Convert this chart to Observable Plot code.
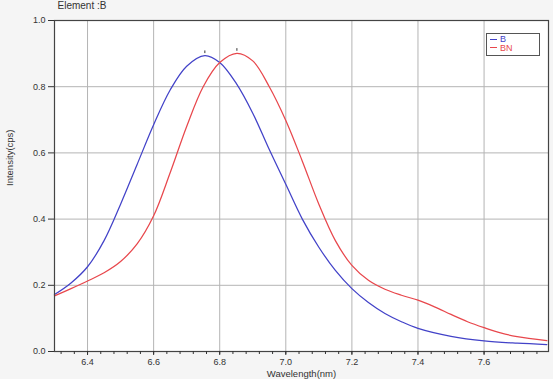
<!DOCTYPE html>
<html>
<head>
<meta charset="utf-8">
<script src="https://cdn.jsdelivr.net/npm/d3@7"></script>
<script src="https://cdn.jsdelivr.net/npm/@observablehq/plot@0.6"></script>
<style>
  html, body { margin: 0; padding: 0; background: #f5f5f5; }
  #wrap { position: relative; width: 553px; height: 379px; }
  #legend {
    position: absolute; left: 486px; top: 33px; width: 52px; height: 20px;
    border: 1px solid #555; background: #fff;
    font: 9px "Liberation Sans", Arial, sans-serif; line-height: 8.5px;
    padding-top: 1px; box-sizing: content-box;
  }
  .row { display: flex; align-items: center; height: 8.5px; }
  .sw { width: 7px; height: 0; border-top: 1.3px solid; margin: 0 3px 0 3px; }
</style>
</head>
<body>
<div id="wrap"></div>
<script>
// Series B
const bWave = [6.30, 6.35, 6.40, 6.45, 6.50, 6.55, 6.60, 6.65, 6.70, 6.755, 6.80, 6.85, 6.90, 6.95, 7.00, 7.05, 7.10, 7.15, 7.20, 7.25, 7.30, 7.35, 7.40, 7.50, 7.60, 7.70, 7.79];
const bInt  = [0.172, 0.207, 0.256, 0.335, 0.445, 0.565, 0.685, 0.79, 0.862, 0.894, 0.873, 0.81, 0.72, 0.61, 0.505, 0.40, 0.315, 0.245, 0.19, 0.148, 0.115, 0.09, 0.07, 0.046, 0.032, 0.025, 0.021];
// Series BN
const bnWave = [6.30, 6.35, 6.40, 6.45, 6.50, 6.55, 6.60, 6.65, 6.70, 6.75, 6.80, 6.852, 6.90, 6.95, 7.00, 7.05, 7.10, 7.15, 7.20, 7.25, 7.30, 7.35, 7.40, 7.45, 7.50, 7.55, 7.60, 7.65, 7.70, 7.79];
const bnInt  = [0.168, 0.19, 0.213, 0.238, 0.272, 0.325, 0.41, 0.54, 0.68, 0.80, 0.873, 0.901, 0.878, 0.80, 0.698, 0.575, 0.445, 0.335, 0.26, 0.215, 0.188, 0.17, 0.155, 0.135, 0.112, 0.09, 0.072, 0.056, 0.045, 0.033];

const seriesNames = ["B", "BN"];
const seriesColors = ["#4242c8", "#e8474c"];

const xTicks = [6.4, 6.6, 6.8, 7.0, 7.2, 7.4, 7.6];
const xMinorTicks = [6.32, 6.36, 6.40, 6.44, 6.48, 6.52, 6.56, 6.60, 6.64, 6.68, 6.72, 6.76, 6.80, 6.84, 6.88, 6.92, 6.96, 7.00, 7.04, 7.08, 7.12, 7.16, 7.20, 7.24, 7.28, 7.32, 7.36, 7.40, 7.44, 7.48, 7.52, 7.56, 7.60, 7.64, 7.68, 7.72, 7.76];
const yTicks = [0.0, 0.2, 0.4, 0.6, 0.8, 1.0];

const titleText = "Element :B";
const xLabel = "Wavelength(nm)";
const yLabel = "Intensity(cps)";

const data = [
  ...bWave.map((w, i) => ({series: "B", w, v: bInt[i]})),
  ...bnWave.map((w, i) => ({series: "BN", w, v: bnInt[i]}))
];
const peaks = seriesNames.map(s => {
  const pts = data.filter(d => d.series === s);
  return pts.reduce((a, b) => (b.v > a.v ? b : a));
});

const font = '"Liberation Sans", Arial, sans-serif';

const chart = Plot.plot({
  width: 553,
  height: 379,
  marginLeft: 54,
  marginRight: 5,
  marginTop: 20,
  marginBottom: 28,
  style: {fontFamily: font, fontSize: "9px", color: "#333", background: "#f5f5f5", overflow: "visible"},
  x: {domain: [6.3, 7.795]},
  y: {domain: [0, 1.0]},
  color: {domain: seriesNames, range: seriesColors},
  marks: [
    Plot.frame({fill: "white", stroke: null}),
    Plot.gridX(xTicks, {stroke: "#b4b4b4", strokeOpacity: 1, strokeWidth: 1}),
    Plot.gridY(yTicks.slice(1, -1), {stroke: "#b4b4b4", strokeOpacity: 1, strokeWidth: 1}),
    Plot.line(data, {x: "w", y: "v", z: "series", stroke: "series", strokeWidth: 1.25, curve: "catmull-rom"}),
    Plot.ruleX(peaks, {x: "w", y1: d => d.v + 0.006, y2: d => d.v + 0.014, stroke: "#333", strokeWidth: 1}),
    Plot.frame({stroke: "#444", strokeWidth: 1.2}),
    Plot.axisX(xMinorTicks, {tickSize: 3, tickFormat: () => "", stroke: "#333", label: null}),
    Plot.axisX(xTicks, {tickSize: 4, tickPadding: 3, tickFormat: d => d.toFixed(1), stroke: "#333", fill: "#333", label: null, fontSize: 9}),
    Plot.axisY(yTicks, {tickSize: 6, tickPadding: 3, tickFormat: d => d.toFixed(1), stroke: "#333", fill: "#333", label: null, fontSize: 9}),
    Plot.text([xLabel], {frameAnchor: "bottom", dy: 22, lineAnchor: "middle", fontSize: 9.5, fill: "#333"}),
    Plot.text([yLabel], {frameAnchor: "left", dx: -45, rotate: -90, lineAnchor: "middle", fontSize: 9.5, fill: "#333"}),
    Plot.text([titleText], {frameAnchor: "top-left", dx: 3, dy: -14.5, textAnchor: "start", lineAnchor: "middle", fontSize: 10, fill: "#333"})
  ]
});

const wrap = document.getElementById("wrap");
wrap.appendChild(chart);

const legend = document.createElement("div");
legend.id = "legend";
seriesNames.forEach((s, i) => {
  const row = document.createElement("div");
  row.className = "row";
  const sw = document.createElement("span");
  sw.className = "sw";
  sw.style.borderTopColor = seriesColors[i];
  const lab = document.createElement("span");
  lab.textContent = s;
  lab.style.color = seriesColors[i];
  row.appendChild(sw);
  row.appendChild(lab);
  legend.appendChild(row);
});
wrap.appendChild(legend);
</script>
</body>
</html>
